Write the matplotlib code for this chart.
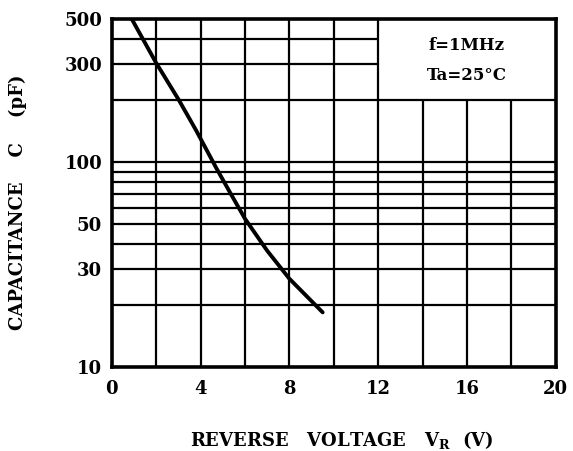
import matplotlib
matplotlib.use("Agg")
import matplotlib.pyplot as plt

# curve
vr = [0.9, 2.0, 3.0, 3.8, 4.7, 5.3, 6.0, 7.0, 8.0, 9.5]
cap = [500, 305, 203, 143, 94, 72, 53, 37, 27, 18.5]

x_ticks = [0, 4, 8, 12, 16, 20]
y_ticks = [10, 30, 50, 100, 300, 500]
h_full = [20, 30, 40, 50, 60, 70, 80, 90, 100, 200]
h_left = [300, 400]
v_full = [2, 4, 6, 8, 10, 12]
v_low = [14, 16, 18]

plt.rcParams["font.family"] = "DejaVu Serif"
plt.rcParams["font.weight"] = "bold"

fig = plt.figure(figsize=(5.73, 4.51), dpi=100)
ax = fig.add_axes([0.195, 0.186, 0.775, 0.772])
ax.set_yscale("log")
ax.set_xlim(0, 20)
ax.set_ylim(10, 500)

# grid, with the top-right block left open for the conditions box
ax.hlines(h_full, 0, 20, color="black", lw=1.6)
ax.hlines(h_left, 0, 12, color="black", lw=1.6)
ax.vlines(v_full, 10, 500, color="black", lw=1.6)
ax.vlines(v_low, 10, 200, color="black", lw=1.6)

ax.plot(vr, cap, color="black", lw=2.8, solid_capstyle="round")

ax.text(16, 373, "f=1MHz", ha="center", va="center", fontsize=12, fontweight="bold")
ax.text(16, 266, "Ta=25°C", ha="center", va="center", fontsize=12, fontweight="bold")

ax.set_xticks(x_ticks)
ax.set_xticklabels([str(v) for v in x_ticks])
ax.set_yticks(y_ticks)
ax.set_yticklabels([str(v) for v in y_ticks])
ax.minorticks_off()
ax.tick_params(length=0, labelsize=13, pad=9)
ax.tick_params(axis="y", pad=7)
for lab in ax.get_xticklabels() + ax.get_yticklabels():
    lab.set_fontweight("bold")

for sp in ax.spines.values():
    sp.set_linewidth(2.6)

ax.set_xlabel(r"REVERSE   VOLTAGE   V$_\mathregular{R}$  (V)", fontsize=13,
              fontweight="bold")
ax.set_ylabel("CAPACITANCE    C    (pF)", fontsize=13, fontweight="bold")
ax.xaxis.set_label_coords(0.518, -0.178)
ax.yaxis.set_label_coords(-0.19, 0.474)

fig.savefig("out.png", dpi=100)
